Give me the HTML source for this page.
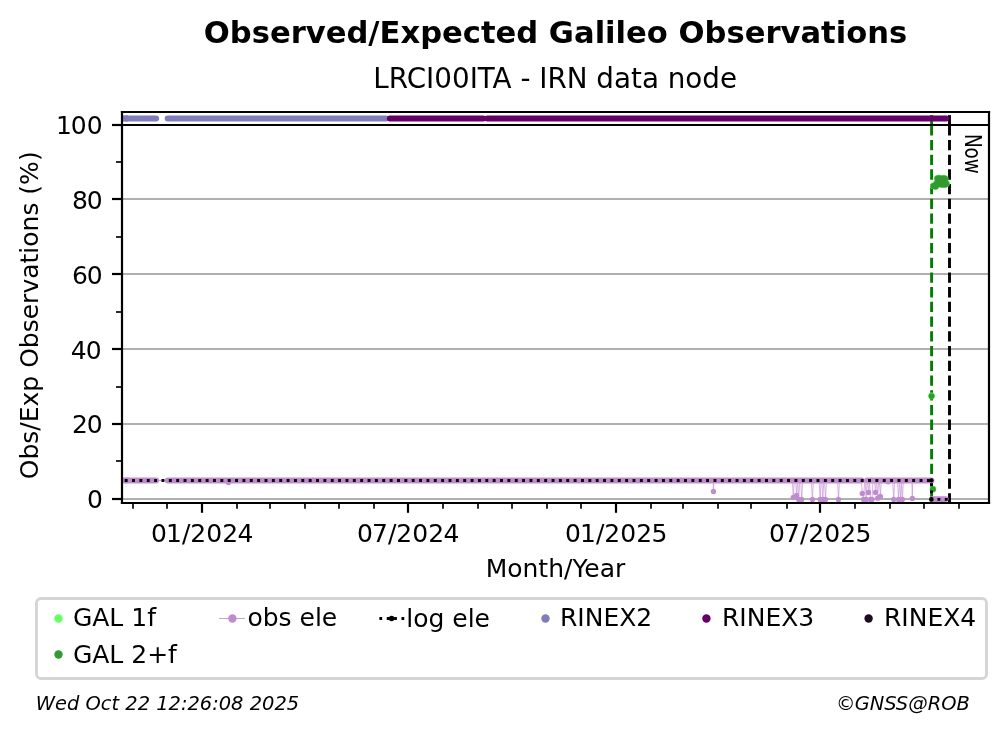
<!DOCTYPE html>
<html lang="en"><head><meta charset="utf-8">
<title>Observed/Expected Galileo Observations - LRCI00ITA</title>
<style>
html,body{margin:0;padding:0;background:#fff;}
body{width:1008px;height:734px;overflow:hidden;}
svg{display:block;}
text{font-family:'DejaVu Sans','Liberation Sans',sans-serif;fill:#000;}
.tk{font-size:25px;}
.lg{font-size:25px;}
.ft{font-size:19.44px;font-style:italic;}
</style></head><body>
<svg width="1008" height="734" viewBox="0 0 1008 734" role="img" aria-label="Observed/Expected Galileo Observations">
<rect x="0" y="0" width="1008" height="734" fill="#fff"/>
<text x="555.5" y="42.6" text-anchor="middle" font-size="30.6" font-weight="bold">Observed/Expected Galileo Observations</text>
<text x="555.2" y="87.7" text-anchor="middle" font-size="27.78">LRCI00ITA - IRN data node</text>
<g stroke="#b0b0b0" stroke-width="2.2" fill="none">
<line x1="122" y1="199" x2="989" y2="199"/>
<line x1="122" y1="274" x2="989" y2="274"/>
<line x1="122" y1="349" x2="989" y2="349"/>
<line x1="122" y1="424" x2="989" y2="424"/>
<line x1="122" y1="499" x2="989" y2="499"/>
</g>
<g>
<path d="M931.6 115.1 V125.2" stroke="#008000" stroke-width="2.9" fill="none"/>
<path d="M931.6 125.2 V503" stroke="#008000" stroke-width="2.9" stroke-dasharray="10.28 4.44" fill="none"/>
<path d="M949.5 115.1 V125.2" stroke="#000" stroke-width="2.9" fill="none"/>
<path d="M949.5 125.2 V503" stroke="#000" stroke-width="2.9" stroke-dasharray="10.28 4.44" fill="none"/>
<line x1="122" y1="125" x2="989" y2="125" stroke="#000" stroke-width="2.2"/>
<line x1="122" y1="118.45" x2="128" y2="118.45" stroke="#807dba" stroke-width="6.1"/>
<line x1="126" y1="118.45" x2="156.05" y2="118.45" stroke="#807dba" stroke-width="6.1" stroke-linecap="round"/>
<line x1="167.75" y1="118.45" x2="386" y2="118.45" stroke="#807dba" stroke-width="6.1" stroke-linecap="round"/>
<line x1="389.9" y1="118.45" x2="483.2" y2="118.45" stroke="#660066" stroke-width="6.1" stroke-linecap="round"/>
<line x1="487.2" y1="118.45" x2="946.2" y2="118.45" stroke="#660066" stroke-width="6.1" stroke-linecap="round"/>
<line x1="122" y1="480.45" x2="128" y2="480.45" stroke="#c08cd0" stroke-width="5.9"/>
<line x1="126" y1="480.45" x2="156.1" y2="480.45" stroke="#c08cd0" stroke-width="5.9" stroke-linecap="round"/>
<line x1="167.8" y1="480.45" x2="861.6" y2="480.45" stroke="#c08cd0" stroke-width="5.9" stroke-linecap="round"/>
<line x1="867" y1="480.45" x2="931.5" y2="480.45" stroke="#c08cd0" stroke-width="5.9" stroke-linecap="round"/>
<line x1="932" y1="499.1" x2="945.7" y2="499.1" stroke="#c08cd0" stroke-width="5.7" stroke-linecap="round"/>
<path d="M150 480.45 H870" stroke="#c08cd0" stroke-width="0.85" fill="none"/>
<path d="M713 480.45 L713.45 491.5 L713.9 480.45 M792.3 480.45 L793.3 497.3 L794.3 480.45 M795.6 480.45 L796.6 495.5 L797.6 480.45 M797.7 480.45 L798.7 499.4 L799.7 480.45 M800.7 480.45 L801.7 499.4 L802.7 480.45 M811.4 480.45 L812.4 499.4 L813.4 480.45 M819.1 480.45 L820.1 499.4 L821.1 480.45 M821.8 480.45 L822.8 499.4 L823.8 480.45 M824.5 480.45 L825.5 499.4 L826.5 480.45 M837.5 480.45 L838.5 499.4 L839.5 480.45 M861.3 480.45 L862.3 493.4 L863.6 499.4 L864.6 480.45 M865.1 480.45 L866.1 499.4 L867.1 480.45 M867.5 480.45 L868.5 492.5 L869.5 480.45 M869.5 480.45 L870.5 499.4 L872 499.4 L873 480.45 M874.5 480.45 L875.5 492.5 L876.5 480.45 M876.7 480.45 L877.7 498.2 L878.7 480.45 M879.4 480.45 L880.4 496.4 L881.4 480.45 M892.7 480.45 L893.7 499.4 L894.7 480.45 M897.5 480.45 L898.5 499.4 L899.5 480.45 M899.6 480.45 L900.6 499.4 L901.6 480.45 M901.4 480.45 L902.4 499.4 L903.4 480.45 M911.85 480.45 L912.3 498.5 L912.75 480.45" stroke="#c99ad8" stroke-width="0.75" stroke-linejoin="round" fill="none"/>
<g fill="#c08cd0">
<circle cx="713.45" cy="491.5" r="2.65"/>
<circle cx="793.3" cy="497.3" r="2.65"/>
<circle cx="796.6" cy="495.5" r="2.65"/>
<circle cx="798.7" cy="499.4" r="2.65"/>
<circle cx="801.7" cy="499.4" r="2.65"/>
<circle cx="812.4" cy="499.4" r="2.65"/>
<circle cx="820.1" cy="499.4" r="2.65"/>
<circle cx="822.8" cy="499.4" r="2.65"/>
<circle cx="825.5" cy="499.4" r="2.65"/>
<circle cx="838.5" cy="499.4" r="2.65"/>
<circle cx="862.3" cy="493.4" r="2.65"/>
<circle cx="863.6" cy="499.4" r="2.65"/>
<circle cx="866.1" cy="499.4" r="2.65"/>
<circle cx="868.5" cy="492.5" r="2.65"/>
<circle cx="870.5" cy="499.4" r="2.65"/>
<circle cx="872" cy="499.4" r="2.65"/>
<circle cx="875.5" cy="492.5" r="2.65"/>
<circle cx="877.7" cy="498.2" r="2.65"/>
<circle cx="880.4" cy="496.4" r="2.65"/>
<circle cx="893.7" cy="499.4" r="2.65"/>
<circle cx="898.5" cy="499.4" r="2.65"/>
<circle cx="900.6" cy="499.4" r="2.65"/>
<circle cx="902.4" cy="499.4" r="2.65"/>
<circle cx="912.3" cy="498.5" r="2.65"/>
<circle cx="228.45" cy="482.6" r="2.65"/>
<circle cx="888.1" cy="481.8" r="2.65"/>
</g>
<g fill="#66ff66">
<circle cx="933.5" cy="185.7" r="3.4"/>
<circle cx="934.6" cy="186.1" r="3.4"/>
<circle cx="935.7" cy="186.3" r="3.4"/>
<circle cx="936.4" cy="183.4" r="3.4"/>
<circle cx="937.3" cy="178.4" r="3.4"/>
<circle cx="938.4" cy="178.1" r="3.4"/>
<circle cx="939.6" cy="178.2" r="3.4"/>
<circle cx="940.7" cy="178.5" r="3.4"/>
<circle cx="941.8" cy="178.7" r="3.4"/>
<circle cx="942.9" cy="178.3" r="3.4"/>
<circle cx="944" cy="178.2" r="3.4"/>
<circle cx="945" cy="178.6" r="3.4"/>
<circle cx="939" cy="181.4" r="3.4"/>
<circle cx="941" cy="181.4" r="3.4"/>
<circle cx="943" cy="181.4" r="3.4"/>
<circle cx="945" cy="181.4" r="3.4"/>
<circle cx="939.4" cy="183.8" r="3.4"/>
<circle cx="940.7" cy="184.2" r="3.4"/>
<circle cx="941.9" cy="184" r="3.4"/>
<circle cx="943" cy="184.3" r="3.4"/>
<circle cx="944.1" cy="184" r="3.4"/>
<circle cx="945.3" cy="184.3" r="3.4"/>
<circle cx="946.4" cy="183.4" r="3.4"/>
<circle cx="931.55" cy="395.9" r="3.4"/>
<circle cx="932.9" cy="489.1" r="3.4"/>
</g>
<g fill="#339933">
<circle cx="933.5" cy="185.9" r="2.95"/>
<circle cx="934.6" cy="186.3" r="2.95"/>
<circle cx="935.7" cy="186.5" r="2.95"/>
<circle cx="936.4" cy="183.6" r="2.95"/>
<circle cx="937.3" cy="178.6" r="2.95"/>
<circle cx="938.4" cy="178.3" r="2.95"/>
<circle cx="939.6" cy="178.4" r="2.95"/>
<circle cx="940.7" cy="178.7" r="2.95"/>
<circle cx="941.8" cy="178.9" r="2.95"/>
<circle cx="942.9" cy="178.5" r="2.95"/>
<circle cx="944" cy="178.4" r="2.95"/>
<circle cx="945" cy="178.8" r="2.95"/>
<circle cx="939" cy="181.6" r="2.95"/>
<circle cx="941" cy="181.6" r="2.95"/>
<circle cx="943" cy="181.6" r="2.95"/>
<circle cx="945" cy="181.6" r="2.95"/>
<circle cx="939.4" cy="184" r="2.95"/>
<circle cx="940.7" cy="184.4" r="2.95"/>
<circle cx="941.9" cy="184.2" r="2.95"/>
<circle cx="943" cy="184.5" r="2.95"/>
<circle cx="944.1" cy="184.2" r="2.95"/>
<circle cx="945.3" cy="184.5" r="2.95"/>
<circle cx="946.4" cy="183.6" r="2.95"/>
<circle cx="931.55" cy="396.1" r="2.95"/>
<circle cx="932.9" cy="489.3" r="2.95"/>
</g>
<path d="M122 480.45 H931.5 V499.4 H949.5" stroke="#000" stroke-width="2.9" stroke-dasharray="2.9 4.46" stroke-dashoffset="4.66" fill="none"/>
<g fill="#000"><circle cx="931.4" cy="480.45" r="2.15"/><circle cx="931.4" cy="499.4" r="2.3"/></g>
</g>
<text transform="translate(965.1 133.9) rotate(90) scale(0.777 1)" font-size="23.6">Now</text>
<g stroke="#000" stroke-width="2.2" fill="none" stroke-linecap="square">
<line x1="122" y1="112" x2="122" y2="503"/>
<line x1="989" y1="112" x2="989" y2="503"/>
<line x1="122" y1="112" x2="989" y2="112"/>
<line x1="122" y1="503" x2="989" y2="503"/>
</g>
<g stroke="#000" stroke-width="2.2" fill="none">
<line x1="112" y1="125" x2="122" y2="125"/>
<line x1="112" y1="199" x2="122" y2="199"/>
<line x1="112" y1="274" x2="122" y2="274"/>
<line x1="112" y1="349" x2="122" y2="349"/>
<line x1="112" y1="424" x2="122" y2="424"/>
<line x1="112" y1="499" x2="122" y2="499"/>
<line x1="116" y1="162" x2="122" y2="162" stroke-width="1.67"/>
<line x1="116" y1="237" x2="122" y2="237" stroke-width="1.67"/>
<line x1="116" y1="312" x2="122" y2="312" stroke-width="1.67"/>
<line x1="116" y1="387" x2="122" y2="387" stroke-width="1.67"/>
<line x1="116" y1="461" x2="122" y2="461" stroke-width="1.67"/>
</g>
<g class="tk" text-anchor="end">
<text x="102.6" y="134" dx="0 -1">100</text>
<text x="102.6" y="208.9" dx="0 -1.2">80</text>
<text x="102.6" y="283.9" dx="0 -1.2">60</text>
<text x="101.7" y="358.9" dx="0 -0.8">40</text>
<text x="102.6" y="433.1" dx="0 -1.2">20</text>
<text x="103" y="507.9">0</text>
</g>
<g stroke="#000" fill="none">
<line x1="133" y1="503" x2="133" y2="508.7" stroke-width="1.67"/>
<line x1="167" y1="503" x2="167" y2="508.7" stroke-width="1.67"/>
<line x1="202" y1="503" x2="202" y2="512.8" stroke-width="2.2"/>
<line x1="237" y1="503" x2="237" y2="508.7" stroke-width="1.67"/>
<line x1="270" y1="503" x2="270" y2="508.7" stroke-width="1.67"/>
<line x1="305" y1="503" x2="305" y2="508.7" stroke-width="1.67"/>
<line x1="339" y1="503" x2="339" y2="508.7" stroke-width="1.67"/>
<line x1="374" y1="503" x2="374" y2="508.7" stroke-width="1.67"/>
<line x1="408" y1="503" x2="408" y2="512.8" stroke-width="2.2"/>
<line x1="443" y1="503" x2="443" y2="508.7" stroke-width="1.67"/>
<line x1="478" y1="503" x2="478" y2="508.7" stroke-width="1.67"/>
<line x1="512" y1="503" x2="512" y2="508.7" stroke-width="1.67"/>
<line x1="547" y1="503" x2="547" y2="508.7" stroke-width="1.67"/>
<line x1="581" y1="503" x2="581" y2="508.7" stroke-width="1.67"/>
<line x1="616" y1="503" x2="616" y2="512.8" stroke-width="2.2"/>
<line x1="651" y1="503" x2="651" y2="508.7" stroke-width="1.67"/>
<line x1="683" y1="503" x2="683" y2="508.7" stroke-width="1.67"/>
<line x1="718" y1="503" x2="718" y2="508.7" stroke-width="1.67"/>
<line x1="751" y1="503" x2="751" y2="508.7" stroke-width="1.67"/>
<line x1="787" y1="503" x2="787" y2="508.7" stroke-width="1.67"/>
<line x1="820" y1="503" x2="820" y2="512.8" stroke-width="2.2"/>
<line x1="855" y1="503" x2="855" y2="508.7" stroke-width="1.67"/>
<line x1="890" y1="503" x2="890" y2="508.7" stroke-width="1.67"/>
<line x1="924" y1="503" x2="924" y2="508.7" stroke-width="1.67"/>
<line x1="959" y1="503" x2="959" y2="508.7" stroke-width="1.67"/>
</g>
<g class="tk" text-anchor="middle">
<text x="201.3" y="542.4" dx="0.9 -0.9 0 0 0 0 -0.6">01/2024</text>
<text x="407.3" y="542.4" dx="0.9 -0.9 0 0 0 0 -0.6">07/2024</text>
<text x="615.3" y="542.4" dx="0.9 -0.9 0 0 0 0 -0.6">01/2025</text>
<text x="819.3" y="542.4" dx="0.9 -0.9 0 0 0 0 -0.6">07/2025</text>
</g>
<text class="tk" x="555.5" y="576.5" text-anchor="middle">Month/Year</text>
<text class="tk" transform="translate(38.2 315.3) rotate(-90)" text-anchor="middle">Obs/Exp Observations (%)</text>
<rect x="36.5" y="598.5" width="950" height="80" rx="4.6" ry="4.6" fill="#fff" stroke="#d5d5d5" stroke-width="2.9"/>
<circle cx="58.5" cy="618.5" r="4.2" fill="#66ff66"/>
<text class="lg" x="72.9" y="625.6">GAL 1f</text>
<circle cx="58.5" cy="654.5" r="4.2" fill="#339933"/>
<text class="lg" x="72.9" y="663">GAL 2+f</text>
<line x1="219.1" y1="618.5" x2="244.9" y2="618.5" stroke="#c08cd0" stroke-width="0.85"/>
<circle cx="232.4" cy="618.5" r="4.2" fill="#c08cd0"/>
<text class="lg" x="247.4" y="625.6">obs ele</text>
<line x1="379.4" y1="618.5" x2="404.8" y2="618.5" stroke="#000" stroke-width="2.78" stroke-dasharray="2.78 4.58"/>
<circle cx="391.6" cy="618.5" r="2.7" fill="#000"/>
<text class="lg" x="406.2" y="627.2">log ele</text>
<circle cx="545.5" cy="618.5" r="4.2" fill="#807dba"/>
<text class="lg" x="560.0" y="625.6">RINEX2</text>
<circle cx="706.4" cy="618.5" r="4.2" fill="#660066"/>
<text class="lg" x="722.0" y="625.6">RINEX3</text>
<circle cx="868.6" cy="618.5" r="4.2" fill="#1f0a26"/>
<text class="lg" x="884.0" y="625.6">RINEX4</text>
<text class="ft" x="35.8" y="709.8">Wed Oct 22 12:26:08 2025</text>
<text class="ft" x="969.8" y="709.8" text-anchor="end" dx="0 -0.9">©GNSS@ROB</text>
</svg>
</body></html>
